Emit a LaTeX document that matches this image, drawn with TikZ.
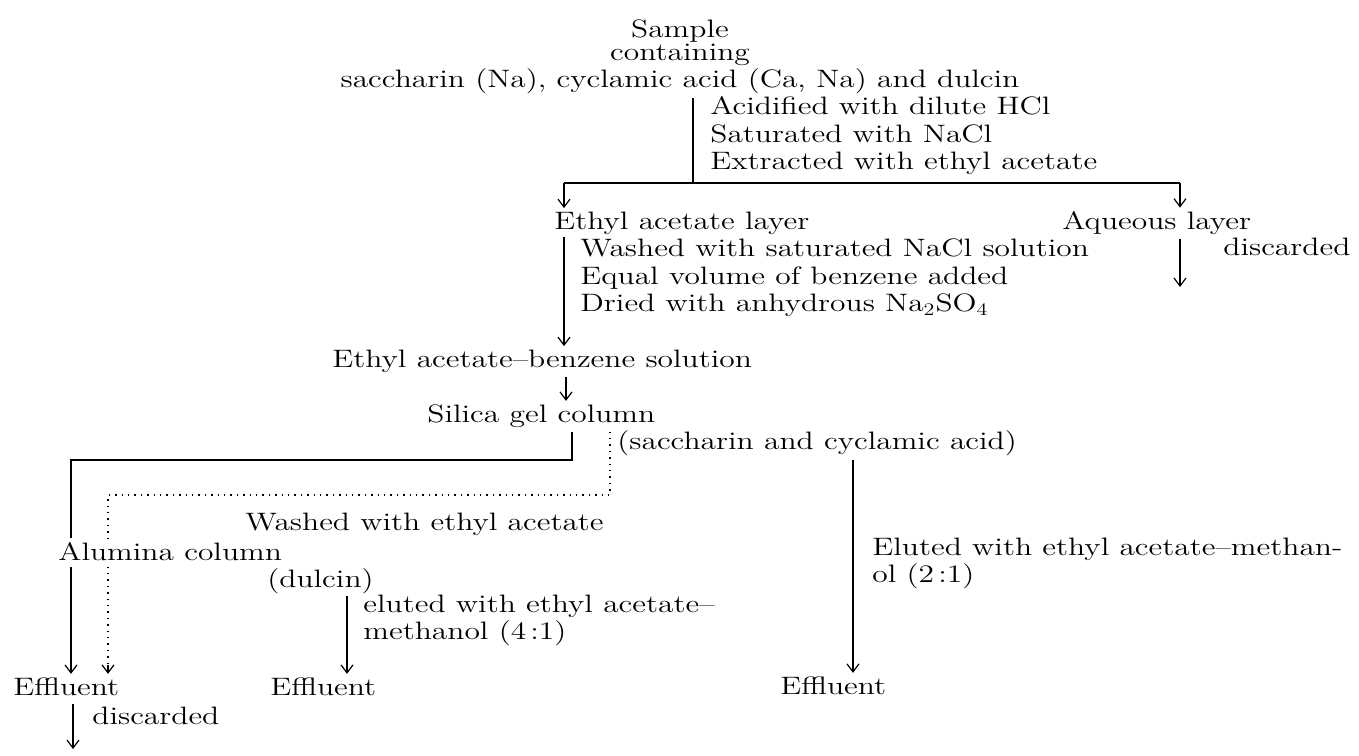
\documentclass[tikz,border=0pt]{standalone}
\usepackage{fontspec}
\setmainfont{lmroman12-regular.otf}[FakeStretch=1.25,Ligatures=TeX]
\usetikzlibrary{arrows.meta}

\begin{document}
\begin{tikzpicture}[x=0.5pt,y=-0.5pt,>={Straight Barb[length=4pt,width=6pt]},
  every node/.style={inner sep=0pt,font=\fontsize{12.6}{13.7}\selectfont},
  lbl/.style={anchor=base west},
  ctr/.style={anchor=base},
  steps/.style={anchor=north west,align=left},
  flow/.style={line width=0.6pt},
  arr/.style={flow,->,shorten >=1.5pt},
  dotflow/.style={line width=0.7pt,dash pattern=on 0.7pt off 2.5pt}]
\useasboundingbox (0,0) rectangle (1359,755);

% sample and extraction
\node[ctr] (sample) at (680,37) {Sample};
\node[ctr] (contain) at (680,60) {containing};
\node[ctr] (mix) at (680,87) {saccharin (Na), cyclamic acid (Ca, Na) and dulcin};
\node[steps] (treat1) at (710,96.5) {Acidified with dilute HCl\\Saturated with NaCl\\Extracted with ethyl acetate};

\node[lbl] (ealayer) at (554,229) {Ethyl acetate layer};
\node[lbl] (aqlayer) at (1062,229) {Aqueous layer};
\node[lbl] (disc1) at (1223,255) {discarded};
\node[steps] (treat2) at (580,238.5) {Washed with saturated NaCl solution\\Equal volume of benzene added\\Dried with anhydrous Na\textsubscript{2}SO\textsubscript{4}};

% columns
\node[lbl] (ebsol) at (332,367) {Ethyl acetate--benzene solution};
\node[lbl] (silica) at (427,422) {Silica gel column};
\node[lbl] (sacc) at (617,449) {(saccharin and cyclamic acid)};
\node[lbl] (washea) at (245,530) {Washed with ethyl acetate};
\node[lbl] (alumina) at (58,560) {Alumina column};
\node[lbl] (dulcin) at (267,587) {(dulcin)};
\node[steps] (elute1) at (363,594.5) {eluted with ethyl acetate--\\methanol (4\thinspace:1)};
\node[steps] (elute2) at (872,537.5) {Eluted with ethyl acetate--methan-\\ol (2\thinspace:1)};

\node[lbl] (eff1) at (13,695) {Effluent};
\node[lbl] (eff2) at (270,695) {Effluent};
\node[lbl] (eff3) at (780,694) {Effluent};
\node[lbl] (disc2) at (92,724) {discarded};

\coordinate (split) at (693,183);
\coordinate (lsplit) at (564,183);
\coordinate (rsplit) at (1180,183);
\coordinate (aqout) at (1180,290);
\coordinate (trunk) at (566,0);
\coordinate (solid) at (572,460);
\coordinate (solidl) at (71,460);
\coordinate (dots) at (610,495);
\coordinate (dotsl) at (108,495);
\coordinate (sacx) at (853,0);
\coordinate (dulx) at (347,0);
\coordinate (effout) at (73,752);

\draw[flow,shorten <=2pt] (mix.south -| split) -- (split);
\draw[flow] (lsplit) -- (rsplit);
\draw[arr] (lsplit) -- (lsplit |- ealayer.north);
\draw[arr] (rsplit) -- (rsplit |- aqlayer.north);
\draw[arr,shorten <=2pt] (rsplit |- aqlayer.south) -- (aqout);
\draw[arr,shorten <=1pt] (lsplit |- ealayer.south) -- (lsplit |- ebsol.north);
\draw[arr,shorten <=2pt] (ebsol.south -| trunk) -- (silica.north -| trunk);

\draw[flow,shorten <=2pt,shorten >=2pt] (silica.south -| solid) -- (solid) -- (solidl) -- (solidl |- alumina.north);
\draw[arr,shorten <=3pt] (solidl |- alumina.south) -- (solidl |- eff1.north);
\draw[dotflow,shorten <=2pt,shorten >=2pt] (silica.south -| dots) -- (dots) -- (dotsl) -- (dotsl |- alumina.north);
\draw[dotflow,shorten <=3pt,shorten >=6pt] (dotsl |- alumina.south) -- (dotsl |- eff1.north);
\draw[arr] ([yshift=6pt]dotsl |- eff1.north) -- (dotsl |- eff1.north);
\draw[arr,shorten <=2pt] (sacc.south -| sacx) -- (sacx |- eff3.north);
\draw[arr,shorten <=1pt] (dulcin.south -| dulx) -- (dulx |- eff2.north);
\draw[arr,shorten <=4pt] (eff1.south -| effout) -- (effout);
\end{tikzpicture}
\end{document}
